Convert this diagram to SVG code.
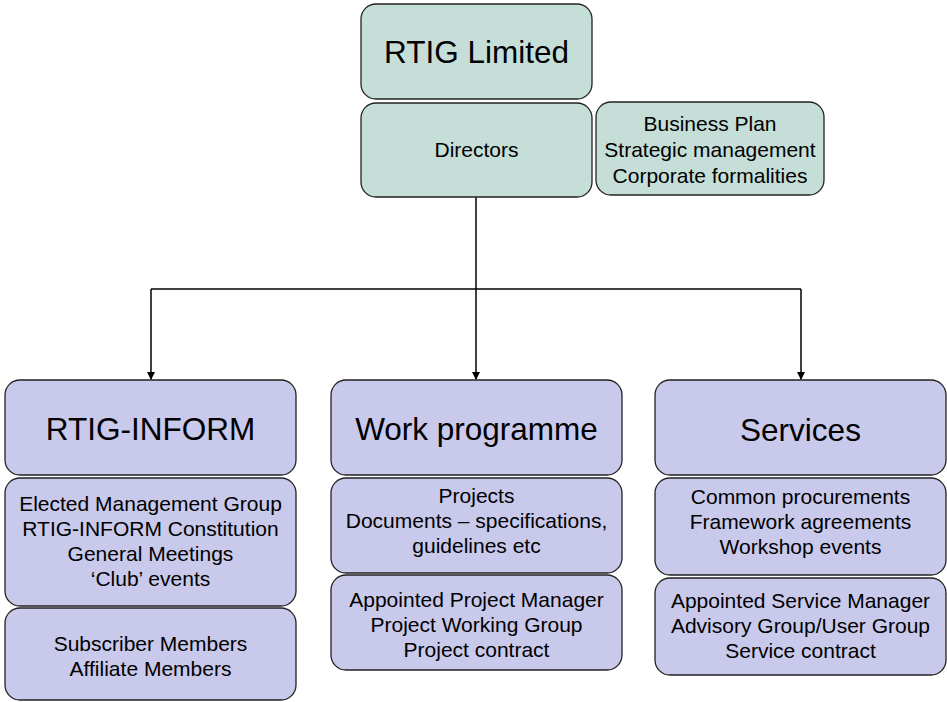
<svg xmlns="http://www.w3.org/2000/svg" width="947" height="702" viewBox="0 0 947 702">
<defs>
<marker id="arr" markerWidth="8" markerHeight="8" refX="7" refY="4" orient="auto" markerUnits="userSpaceOnUse">
<path d="M0,0 L8,4 L0,8 Z" fill="#000"/>
</marker>
<style>
.teal{fill:#C6DED8;stroke:#222;stroke-width:1.3}
.lav{fill:#C9C9EC;stroke:#222;stroke-width:1.3}
text{font-family:"Liberation Sans",Arial,sans-serif;fill:#000;text-anchor:middle}
.big{font-size:31.5px}
.sm{font-size:21px}
.conn{fill:none;stroke:#000;stroke-width:1.5}
</style>
</defs>
<rect width="947" height="702" fill="#fff"/>
<g id="connectors">
<path class="conn" d="M476,197 V289"/>
<path class="conn" d="M151,289 H801"/>
<path class="conn" d="M151,289 V379" marker-end="url(#arr)"/>
<path class="conn" d="M476,289 V379" marker-end="url(#arr)"/>
<path class="conn" d="M801,289 V379" marker-end="url(#arr)"/>
</g>
<g id="rtig-limited">
<rect class="teal" x="361" y="4" width="231" height="95" rx="15"/>
<text class="big" x="476.5" y="63">RTIG Limited</text>
</g>
<g id="directors">
<rect class="teal" x="361" y="103" width="231" height="94" rx="15"/>
<text class="sm" x="476.5" y="157">Directors</text>
</g>
<g id="business-plan">
<rect class="teal" x="596" y="102" width="228" height="93" rx="15"/>
<text class="sm" x="710" y="131">Business Plan</text>
<text class="sm" x="710" y="157">Strategic management</text>
<text class="sm" x="710" y="183">Corporate formalities</text>
</g>
<g id="rtig-inform">
<rect class="lav" x="5" y="380" width="291" height="95" rx="15"/>
<text class="big" x="150.5" y="440">RTIG-INFORM</text>
</g>
<g id="rtig-inform-details">
<rect class="lav" x="5" y="478" width="291" height="128" rx="15"/>
<text class="sm" x="150.5" y="511">Elected Management Group</text>
<text class="sm" x="150.5" y="536">RTIG-INFORM Constitution</text>
<text class="sm" x="150.5" y="561">General Meetings</text>
<text class="sm" x="150.5" y="586">‘Club’ events</text>
</g>
<g id="rtig-inform-members">
<rect class="lav" x="5" y="608" width="291" height="92" rx="15"/>
<text class="sm" x="150.5" y="651">Subscriber Members</text>
<text class="sm" x="150.5" y="676">Affiliate Members</text>
</g>
<g id="work-programme">
<rect class="lav" x="331" y="380" width="291" height="95" rx="15"/>
<text class="big" x="476.5" y="440">Work programme</text>
</g>
<g id="work-programme-details">
<rect class="lav" x="331" y="478" width="291" height="95" rx="15"/>
<text class="sm" x="476.5" y="503">Projects</text>
<text class="sm" x="476.5" y="528">Documents – specifications,</text>
<text class="sm" x="476.5" y="553">guidelines etc</text>
</g>
<g id="work-programme-management">
<rect class="lav" x="331" y="575" width="291" height="95" rx="15"/>
<text class="sm" x="476.5" y="607">Appointed Project Manager</text>
<text class="sm" x="476.5" y="632">Project Working Group</text>
<text class="sm" x="476.5" y="657">Project contract</text>
</g>
<g id="services">
<rect class="lav" x="655" y="380" width="291" height="95" rx="15"/>
<text class="big" x="800.5" y="441">Services</text>
</g>
<g id="services-details">
<rect class="lav" x="655" y="478" width="291" height="97" rx="15"/>
<text class="sm" x="800.5" y="504">Common procurements</text>
<text class="sm" x="800.5" y="529">Framework agreements</text>
<text class="sm" x="800.5" y="554">Workshop events</text>
</g>
<g id="services-management">
<rect class="lav" x="655" y="578" width="291" height="97" rx="15"/>
<text class="sm" x="800.5" y="608">Appointed Service Manager</text>
<text class="sm" x="800.5" y="633">Advisory Group/User Group</text>
<text class="sm" x="800.5" y="658">Service contract</text>
</g>
</svg>
